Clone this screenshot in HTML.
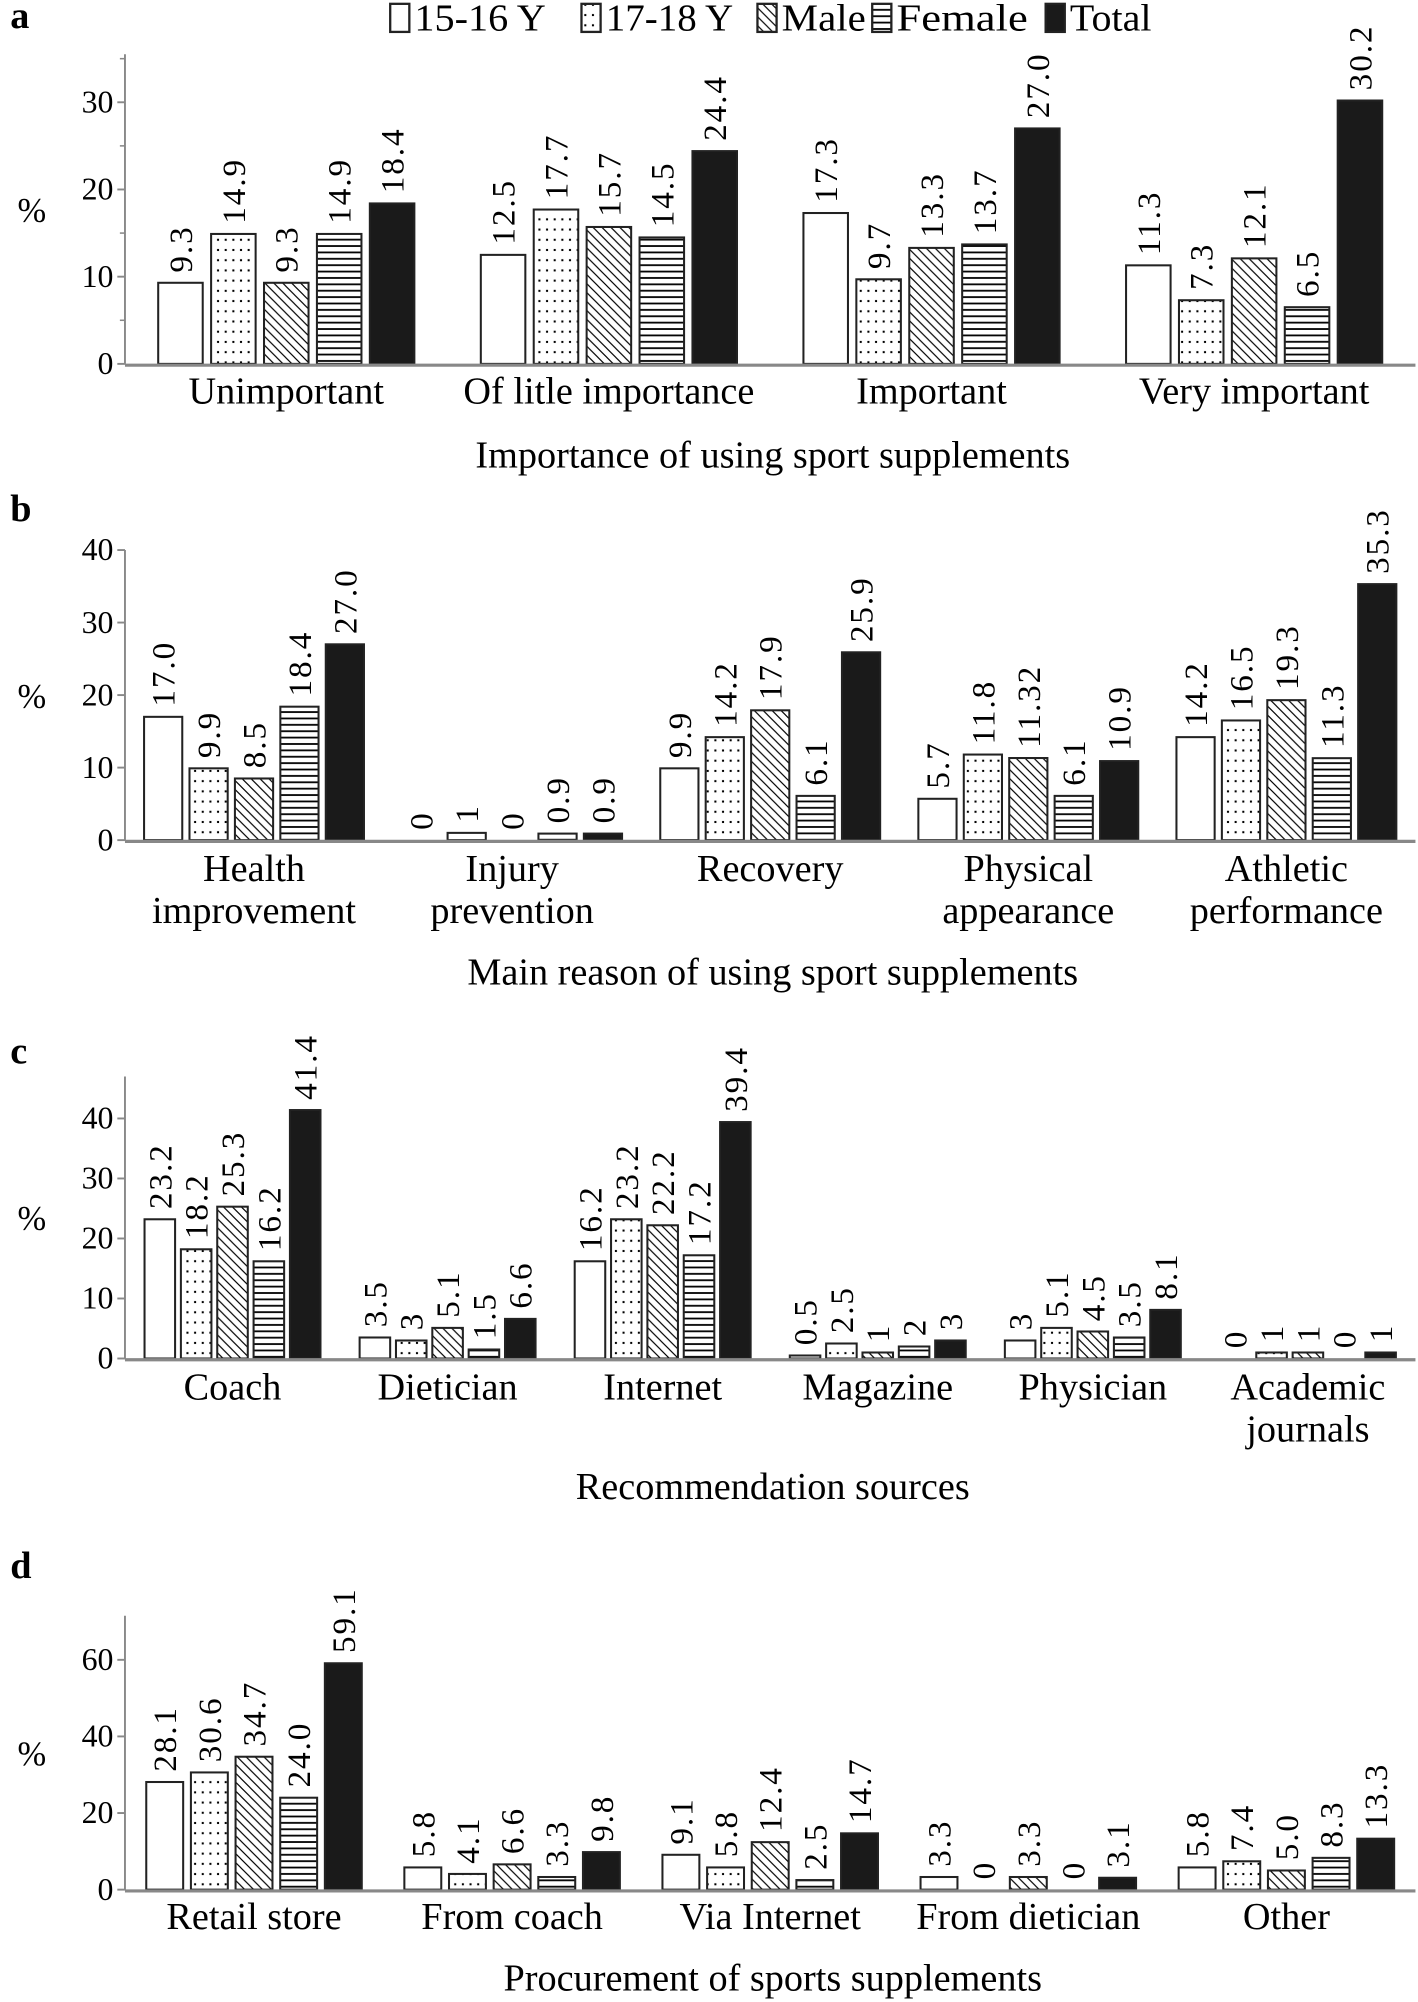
<!DOCTYPE html>
<html><head><meta charset="utf-8"><style>html,body{margin:0;padding:0;background:#fff}svg{display:block}</style></head>
<body>
<svg id="chart" width="1418" height="2002" viewBox="0 0 1112 1568" preserveAspectRatio="none" xmlns="http://www.w3.org/2000/svg" font-family="Liberation Serif, serif">
<defs>
<pattern id="dots" width="6" height="8" patternUnits="userSpaceOnUse"><rect width="6" height="8" fill="#fff"/><rect x="2.2" y="3" width="1.6" height="1.6" fill="#000"/></pattern>
<pattern id="diag" width="7" height="7" patternUnits="userSpaceOnUse"><rect width="7" height="7" fill="#fff"/><path d="M-1,-1 L8,8 M-1,6 L1,8 M6,-1 L8,1" stroke="#000" stroke-width="0.9"/></pattern>
<pattern id="horiz" width="6" height="5" patternUnits="userSpaceOnUse"><rect width="6" height="5" fill="#fff"/><rect y="2" width="6" height="1.4" fill="#000"/></pattern>
</defs>
<g id="legend"></g>
<g id="panels"></g>
</svg>
<script>
const seriesNames = ['15-16 Y','17-18 Y','Male','Female','Total'];
const fills = ['#fff','url(#dots)','url(#diag)','url(#horiz)','#1a1a1a'];

const aCats = [['Unimportant'],['Of litle importance'],['Important'],['Very important']];
const aS1 = [9.3,12.5,17.3,11.3];
const aS2 = [14.9,17.7,9.7,7.3];
const aS3 = [9.3,15.7,13.3,12.1];
const aS4 = [14.9,14.5,13.7,6.5];
const aS5 = [18.4,24.4,27.0,30.2];
const aLbl = [['9.3','12.5','17.3','11.3'],['14.9','17.7','9.7','7.3'],['9.3','15.7','13.3','12.1'],['14.9','14.5','13.7','6.5'],['18.4','24.4','27.0','30.2']];
const aTicks = [0,10,20,30];

const bCats = [['Health','improvement'],['Injury','prevention'],['Recovery'],['Physical','appearance'],['Athletic','performance']];
const bS1 = [17.0,0,9.9,5.7,14.2];
const bS2 = [9.9,1,14.2,11.8,16.5];
const bS3 = [8.5,0,17.9,11.32,19.3];
const bS4 = [18.4,0.9,6.1,6.1,11.3];
const bS5 = [27.0,0.9,25.9,10.9,35.3];
const bLbl = [['17.0','0','9.9','5.7','14.2'],['9.9','1','14.2','11.8','16.5'],['8.5','0','17.9','11.32','19.3'],['18.4','0.9','6.1','6.1','11.3'],['27.0','0.9','25.9','10.9','35.3']];
const bTicks = [0,10,20,30,40];

const cCats = [['Coach'],['Dietician'],['Internet'],['Magazine'],['Physician'],['Academic','journals']];
const cS1 = [23.2,3.5,16.2,0.5,3,0];
const cS2 = [18.2,3,23.2,2.5,5.1,1];
const cS3 = [25.3,5.1,22.2,1,4.5,1];
const cS4 = [16.2,1.5,17.2,2,3.5,0];
const cS5 = [41.4,6.6,39.4,3,8.1,1];
const cLbl = [['23.2','3.5','16.2','0.5','3','0'],['18.2','3','23.2','2.5','5.1','1'],['25.3','5.1','22.2','1','4.5','1'],['16.2','1.5','17.2','2','3.5','0'],['41.4','6.6','39.4','3','8.1','1']];
const cTicks = [0,10,20,30,40];

const dCats = [['Retail store'],['From coach'],['Via Internet'],['From dietician'],['Other']];
const dS1 = [28.1,5.8,9.1,3.3,5.8];
const dS2 = [30.6,4.1,5.8,0,7.4];
const dS3 = [34.7,6.6,12.4,3.3,5.0];
const dS4 = [24.0,3.3,2.5,0,8.3];
const dS5 = [59.1,9.8,14.7,3.1,13.3];
const dLbl = [['28.1','5.8','9.1','3.3','5.8'],['30.6','4.1','5.8','0','7.4'],['34.7','6.6','12.4','3.3','5.0'],['24.0','3.3','2.5','0','8.3'],['59.1','9.8','14.7','3.1','13.3']];
const dTicks = [0,20,40,60];

const NS='http://www.w3.org/2000/svg';
function mk(tag,attrs,parent,text){const e=document.createElementNS(NS,tag);for(const k in attrs)e.setAttribute(k,attrs[k]);if(text!==undefined)e.textContent=text;parent.appendChild(e);return e;}

const panels=[
 {id:'a',cats:aCats,series:[aS1,aS2,aS3,aS4,aS5],lbl:aLbl,ticks:aTicks,minor:5,max:35.5,base:285,unit:6.83,letterY:22,catY:308,titleY:357,pitch:0.164,bw:0.138,title:'Importance of using sport supplements'},
 {id:'b',cats:bCats,series:[bS1,bS2,bS3,bS4,bS5],lbl:bLbl,ticks:bTicks,minor:0,max:40,base:658,unit:5.68,letterY:408,catY:682,titleY:762,pitch:0.176,bw:0.148,title:'Main reason of using sport supplements'},
 {id:'c',cats:cCats,series:[cS1,cS2,cS3,cS4,cS5],lbl:cLbl,ticks:cTicks,minor:0,max:47,base:1064,unit:4.7,letterY:833,catY:1088,titleY:1165,pitch:0.169,bw:0.142,title:'Recommendation sources'},
 {id:'d',cats:dCats,series:[dS1,dS2,dS3,dS4,dS5],lbl:dLbl,ticks:dTicks,minor:0,max:71.5,base:1480,unit:3.0,letterY:1236,catY:1503,titleY:1550,pitch:0.173,bw:0.143,title:'Procurement of sports supplements'}
];
const X0=98,X1=1110;
const root=document.getElementById('panels');
panels.forEach(p=>{
 const g=mk('g',{},root);
 
 
 const yS=v=>p.base-v*p.unit;
 const L=mk('text',{x:8,y:p.letterY,'font-size':30,'font-weight':'bold'},g,p.id);
 
 
 const ax=mk('line',{x1:X0,y1:yS(p.max),x2:X0,y2:p.base,stroke:'#888','stroke-width':1.5},g);
 
 
 p.ticks.forEach(t=>{
  mk('line',{x1:X0-6,y1:yS(t),x2:X0,y2:yS(t),stroke:'#888','stroke-width':1.5},g);
  const tl=mk('text',{x:X0-9,y:yS(t)+8,'font-size':25,'text-anchor':'end'},g,String(t));
  
  
 });
 if(p.minor){for(let t=p.minor;t<p.max;t+=p.minor*2){mk('line',{x1:X0-4,y1:yS(t),x2:X0,y2:yS(t),stroke:'#888','stroke-width':1.2},g);}}
 const yt=mk('text',{x:25,y:(p.base+yS(p.max))/2+10,'font-size':27,'text-anchor':'middle'},g,'%');
 
 
 const n=p.cats.length,cw=(X1-X0)/n;
 const pitch=cw*p.pitch,bw=cw*p.bw;
 p.cats.forEach((c,i)=>{
  const cx=X0+cw*(i+0.5);
  const gx=cx-(4*pitch+bw)/2;
  p.series.forEach((s,j)=>{
   const v=s[i],x=gx+j*pitch,y=yS(v);
   const r=mk('rect',{x:x,y:y,width:bw,height:Math.max(0,p.base-y),fill:fills[j],stroke:'#222','stroke-width':1.6},g);
   
   
   const tx=x+bw/2+9,ty=y-8;
   const vl=mk('text',{x:tx,y:ty,'font-size':26,transform:'rotate(-90 '+tx+' '+ty+')','letter-spacing':'1.5'},g,p.lbl[j][i]);
   
   
  });
  c.forEach((line,k)=>{
   const cl=mk('text',{x:cx,y:p.catY+8+k*33,'font-size':30,'text-anchor':'middle'},g,line);
   
   
  });
 });
 const bl=mk('line',{x1:X0,y1:p.base+1,x2:X1,y2:p.base+1,stroke:'#888','stroke-width':2.5},g);
 
 
 const xt=mk('text',{x:606,y:p.titleY+9,'font-size':30,'text-anchor':'middle'},g,p.title);
 
 
});
const lg=document.getElementById('legend');
const lgX=[306,456,594,684,820];
const lgTL=[103,100,66,103,64];
seriesNames.forEach((nm,j)=>{
 const b=mk('rect',{x:lgX[j],y:3,width:15,height:22,fill:fills[j],stroke:'#222','stroke-width':1.8},lg);
 
 
 const t=mk('text',{x:lgX[j]+19,y:24,'font-size':30,textLength:lgTL[j],lengthAdjust:'spacingAndGlyphs'},lg,nm);
 
 
});
</script>
</body></html>
